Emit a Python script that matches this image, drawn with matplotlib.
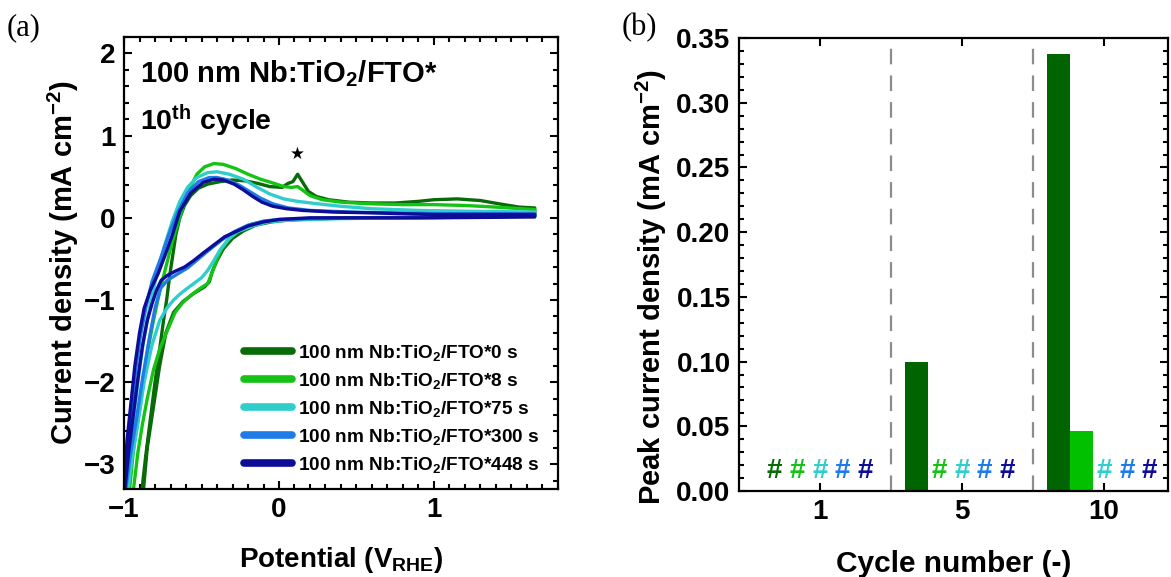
import numpy as np
import matplotlib
matplotlib.use("Agg")
import matplotlib.pyplot as plt

plt.rcParams['font.family'] = ['Liberation Sans', 'DejaVu Sans']
plt.rcParams['font.weight'] = 'bold'
plt.rcParams['axes.labelweight'] = 'bold'
plt.rcParams['mathtext.default'] = 'regular'

# ---- data ----
labels = ['100 nm Nb:TiO$_2$/FTO*0 s', '100 nm Nb:TiO$_2$/FTO*8 s',
          '100 nm Nb:TiO$_2$/FTO*75 s', '100 nm Nb:TiO$_2$/FTO*300 s',
          '100 nm Nb:TiO$_2$/FTO*448 s']
colors = ['#086b08', '#14c314', '#30cdcd', '#1f7be6', '#0d0d98']

# CV loops (10th cycle): anodic sweep then cathodic sweep
cv_0s_x = [-0.885, -0.86, -0.83, -0.80, -0.77, -0.745, -0.725, -0.705, -0.685, -0.665, -0.64, -0.61,
           -0.57, -0.52, -0.46, -0.38, -0.30, -0.22, -0.14, -0.06, 0.02, 0.06, 0.09, 0.12, 0.15, 0.19,
           0.24, 0.32, 0.45, 0.60, 0.75, 0.90, 1.00, 1.15, 1.30, 1.42, 1.55, 1.65,
           1.65, 1.40, 1.10, 0.80, 0.50, 0.30, 0.15, 0.05, -0.05, -0.15, -0.23, -0.30, -0.36, -0.40,
           -0.43, -0.45, -0.48, -0.55, -0.62, -0.68, -0.73, -0.77, -0.81, -0.85, -0.875]
cv_0s_y = [-3.32, -2.90, -2.45, -2.00, -1.60, -1.25, -1.00, -0.70, -0.45, -0.20, 0.00, 0.15,
           0.27, 0.36, 0.41, 0.44, 0.46, 0.45, 0.42, 0.38, 0.37, 0.42, 0.44, 0.53, 0.44, 0.32,
           0.26, 0.22, 0.19, 0.18, 0.18, 0.20, 0.22, 0.23, 0.21, 0.17, 0.13, 0.12,
           0.03, 0.02, 0.01, 0.00, 0.00, -0.01, -0.02, -0.03, -0.05, -0.09, -0.16, -0.25, -0.38, -0.52,
           -0.65, -0.78, -0.84, -0.92, -1.02, -1.15, -1.40, -1.80, -2.30, -2.80, -3.32]

cv_8s_x = [-0.965, -0.94, -0.91, -0.88, -0.845, -0.81, -0.77, -0.73, -0.69, -0.65, -0.61, -0.57,
           -0.53, -0.48, -0.42, -0.36, -0.28, -0.20, -0.12, -0.05, 0.03, 0.08, 0.12, 0.15, 0.20,
           0.28, 0.40, 0.60, 0.80, 1.00, 1.20, 1.40, 1.65,
           1.65, 1.30, 0.90, 0.50, 0.20, 0.05, -0.08, -0.18, -0.26, -0.32, -0.37, -0.40, -0.43,
           -0.46, -0.51, -0.56, -0.62, -0.67, -0.72, -0.77, -0.81, -0.85, -0.88, -0.91, -0.94]
cv_8s_y = [-3.32, -2.85, -2.40, -2.00, -1.60, -1.25, -0.90, -0.60, -0.30, -0.05, 0.18, 0.38,
           0.53, 0.62, 0.66, 0.65, 0.60, 0.53, 0.47, 0.43, 0.38, 0.37, 0.38, 0.34, 0.27,
           0.22, 0.19, 0.17, 0.16, 0.16, 0.15, 0.13, 0.10,
           0.02, 0.01, 0.00, 0.00, -0.01, -0.02, -0.04, -0.08, -0.16, -0.25, -0.38, -0.50, -0.66,
           -0.80, -0.86, -0.93, -1.03, -1.15, -1.37, -1.60, -1.85, -2.20, -2.50, -2.85, -3.32]

cv_75s_x = [-0.985, -0.96, -0.93, -0.90, -0.87, -0.83, -0.79, -0.74, -0.69, -0.64, -0.59, -0.53,
            -0.46, -0.40, -0.32, -0.23, -0.15, -0.06, 0.03, 0.12, 0.25, 0.40, 0.60, 0.90, 1.20, 1.65,
            1.65, 1.20, 0.80, 0.40, 0.20, 0.05, -0.07, -0.17, -0.27, -0.33, -0.38, -0.42, -0.46,
            -0.50, -0.55, -0.60, -0.64, -0.68, -0.72, -0.77, -0.82, -0.87, -0.91, -0.95, -0.975]
cv_75s_y = [-3.32, -2.80, -2.30, -1.85, -1.45, -1.05, -0.70, -0.35, -0.05, 0.20, 0.37, 0.49,
            0.55, 0.56, 0.53, 0.47, 0.38, 0.29, 0.23, 0.20, 0.17, 0.14, 0.11, 0.09, 0.08, 0.07,
            0.02, 0.01, 0.00, -0.01, -0.02, -0.03, -0.05, -0.10, -0.17, -0.27, -0.39, -0.52, -0.64,
            -0.73, -0.80, -0.87, -0.93, -1.00, -1.09, -1.25, -1.55, -2.00, -2.50, -2.95, -3.32]

cv_300s_x = [-0.995, -0.975, -0.95, -0.925, -0.895, -0.86, -0.82, -0.765, -0.71, -0.655, -0.59, -0.52,
             -0.45, -0.40, -0.33, -0.26, -0.19, -0.12, -0.04, 0.06, 0.20, 0.45, 1.00, 1.65,
             1.65, 1.00, 0.50, 0.20, 0.00, -0.10, -0.20, -0.29, -0.37, -0.45, -0.52, -0.59, -0.66,
             -0.72, -0.765, -0.80, -0.84, -0.88, -0.92, -0.96, -0.99]
cv_300s_y = [-3.32, -2.80, -2.30, -1.85, -1.45, -1.10, -0.78, -0.50, -0.20, 0.06, 0.30, 0.44,
             0.49, 0.49, 0.46, 0.40, 0.32, 0.24, 0.17, 0.12, 0.09, 0.07, 0.05, 0.05,
             0.02, 0.01, 0.00, -0.01, -0.02, -0.04, -0.09, -0.17, -0.27, -0.39, -0.50, -0.61, -0.69,
             -0.76, -0.86, -1.10, -1.50, -1.95, -2.45, -2.90, -3.32]

cv_448s_x = [-1.0, -0.98, -0.955, -0.93, -0.90, -0.87, -0.83, -0.78, -0.74, -0.69, -0.64, -0.57,
             -0.49, -0.42, -0.36, -0.29, -0.23, -0.17, -0.11, -0.04, 0.05, 0.15, 0.35, 0.60, 1.00, 1.65,
             1.65, 1.00, 0.50, 0.20, 0.00, -0.10, -0.20, -0.28, -0.35, -0.42, -0.49, -0.55, -0.61,
             -0.67, -0.72, -0.76, -0.79, -0.82, -0.85, -0.88, -0.91, -0.94, -0.97, -0.995]
cv_448s_y = [-3.15, -2.70, -2.25, -1.80, -1.40, -1.10, -0.88, -0.68, -0.48, -0.22, 0.08, 0.30,
             0.43, 0.47, 0.46, 0.41, 0.34, 0.26, 0.19, 0.14, 0.11, 0.09, 0.07, 0.06, 0.04, 0.04,
             0.01, 0.00, 0.00, 0.00, -0.02, -0.05, -0.10, -0.17, -0.23, -0.33, -0.43, -0.52, -0.60,
             -0.65, -0.70, -0.76, -0.88, -1.05, -1.25, -1.55, -1.95, -2.40, -2.85, -3.32]

cv_x = [cv_0s_x, cv_8s_x, cv_75s_x, cv_300s_x, cv_448s_x]
cv_y = [cv_0s_y, cv_8s_y, cv_75s_y, cv_300s_y, cv_448s_y]

# peak current densities, nan = no peak (#)
cycles = ['1', '5', '10']
peak_0s = [np.nan, 0.100, 0.338]
peak_8s = [np.nan, np.nan, 0.046]
peak_75s = [np.nan, np.nan, np.nan]
peak_300s = [np.nan, np.nan, np.nan]
peak_448s = [np.nan, np.nan, np.nan]
peaks = [peak_0s, peak_8s, peak_75s, peak_300s, peak_448s]
bar_colors = ['#006400', '#00c000', '#30cdcd', '#1f7be6', '#0d0d98']

fig = plt.figure(figsize=(11.71, 5.77), dpi=100)
ax1 = fig.add_axes([0.1059, 0.1525, 0.3706, 0.7834])
ax2 = fig.add_axes([0.631, 0.149, 0.3664, 0.785])

# ---- (a) ----
for i in range(5):
    ax1.plot(cv_x[i], cv_y[i], color=colors[i], lw=2.4, label=labels[i])
ax1.set_xlim(-1, 1.8)
ax1.set_ylim(-3.3, 2.2)
ax1.set_xticks([-1, 0, 1])
ax1.set_yticks([-3, -2, -1, 0, 1, 2])
ax1.set_xticks(np.arange(-1, 1.81, 0.1), minor=True)
ax1.set_yticks(np.arange(-3.2, 2.21, 0.2), minor=True)
ax1.set_xlabel('Potential (V$_{RHE}$)', fontsize=20)
ax1.set_ylabel('Current density (mA cm$^{-2}$)', fontsize=21)
ax1.xaxis.set_label_coords(0.5, -0.124)
ax1.yaxis.set_label_coords(-0.10, 0.5)
ax1.text(0.037, 0.92, '100 nm Nb:TiO$_2$/FTO*', transform=ax1.transAxes, fontsize=21, va='center')
ax1.text(0.037, 0.815, '10$^{th}$ cycle', transform=ax1.transAxes, fontsize=20.5, va='center')
ax1.text(0.12, 0.78, '\u2605', fontsize=12, ha='center', va='center', family='DejaVu Sans')
leg = ax1.legend(loc='lower right', bbox_to_anchor=(0.99, 0.0), frameon=False, fontsize=13.7,
                 handlelength=2.5, handletextpad=0.3, labelspacing=0.42, borderaxespad=0.35)
for h in leg.get_lines():
    h.set_linewidth(5.5)
    h.set_solid_capstyle('round')

# ---- (b) ----
x = np.arange(len(cycles))
w = 0.16
for i in range(5):
    off = (i - 2) * w
    for j in range(len(cycles)):
        if np.isnan(peaks[i][j]):
            ax2.text(x[j] + off, 0.0155, '#', color=colors[i], fontsize=20, ha='center', va='center')
        else:
            ax2.bar(x[j] + off, peaks[i][j], width=w, color=bar_colors[i])
for xv in [0.5, 1.5]:
    ax2.axvline(xv, color='#8c8c8c', lw=1.6, ls=(0, (7, 5)))
ax2.set_xlim(-0.57, 2.45)
ax2.set_ylim(0, 0.35)
ax2.set_xticks(x)
ax2.set_xticklabels(cycles)
ax2.set_yticks(np.arange(0, 0.351, 0.05))
ax2.set_yticks(np.arange(0, 0.351, 0.01), minor=True)
ax2.yaxis.set_major_formatter(matplotlib.ticker.FormatStrFormatter('%.2f'))
ax2.set_xlabel('Cycle number (-)', fontsize=21.5)
ax2.set_ylabel('Peak current density (mA cm$^{-2}$)', fontsize=21)
ax2.xaxis.set_label_coords(0.5, -0.131)
ax2.yaxis.set_label_coords(-0.163, 0.45)

for ax in (ax1, ax2):
    for s in ax.spines.values():
        s.set_linewidth(1.6)
    ax.tick_params(which='both', direction='in', top=True, right=True, width=1.5, labelsize=20, pad=6)
    ax.tick_params(which='major', length=6)
    ax.tick_params(which='minor', length=3.5)

fig.text(0.006, 0.952, '(a)', fontsize=22, family='Liberation Serif', weight='normal', va='center')
fig.text(0.531, 0.952, '(b)', fontsize=22, family='Liberation Serif', weight='normal', va='center')

fig.savefig('out.png', dpi=100)
